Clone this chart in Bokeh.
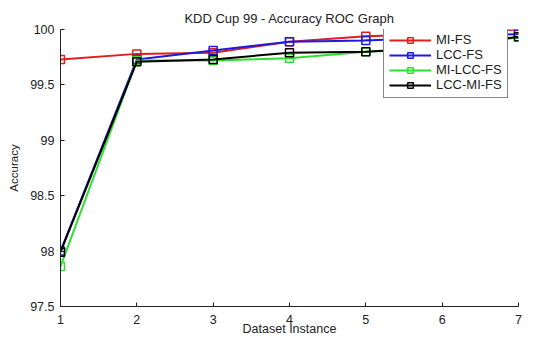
from bokeh.plotting import figure
from bokeh.models import FixedTicker, Legend
from bokeh.embed import file_html
from bokeh.resources import INLINE

instances = [1, 2, 3, 4, 5, 6, 7]
mi_fs = [99.73, 99.78, 99.79, 99.89, 99.94, 99.96, 100.0]
lcc_fs = [98.00, 99.73, 99.81, 99.89, 99.90, 99.93, 99.96]
mi_lcc_fs = [97.86, 99.72, 99.72, 99.74, 99.80, 99.83, 99.93]
lcc_mi_fs = [97.99, 99.71, 99.73, 99.79, 99.80, 99.84, 99.935]

series_names = ["MI-FS", "LCC-FS", "MI-LCC-FS", "LCC-MI-FS"]
series_values = [mi_fs, lcc_fs, mi_lcc_fs, lcc_mi_fs]
colors = ["#e31c1c", "#1c1ce0", "#2ee02e", "#000000"]

y_ticks = [97.5, 98, 98.5, 99, 99.5, 100]
y_tick_labels = ["97.5", "98", "98.5", "99", "99.5", "100"]

FONT = "Liberation Sans"
FS = "12.5px"

p = figure(width=544, height=338, output_backend="svg", toolbar_location=None,
           x_range=(1, 7), y_range=(97.5, 100),
           min_border_left=60, min_border_right=26, min_border_top=29, min_border_bottom=30,
           title="KDD Cup 99 - Accuracy ROC Graph")
p.title.align = "center"
p.title.text_font = FONT
p.title.text_font_size = "13px"
p.title.text_font_style = "normal"
p.title.text_color = "#222222"
p.title.standoff = 8
p.outline_line_color = None
p.xgrid.visible = False
p.ygrid.visible = False

p.xaxis.ticker = FixedTicker(ticks=instances)
p.yaxis.ticker = FixedTicker(ticks=y_ticks)
p.yaxis.major_label_overrides = {t: l for t, l in zip(y_ticks, y_tick_labels)}
for ax in (p.xaxis, p.yaxis):
    ax.major_tick_in = 4
    ax.major_tick_out = 0
    ax.minor_tick_in = 0
    ax.minor_tick_out = 0
    ax.axis_line_color = "#222222"
    ax.major_tick_line_color = "#222222"
    ax.major_label_text_font = FONT
    ax.major_label_text_font_size = FS
    ax.major_label_text_color = "#222222"
    ax.axis_label_text_font = FONT
    ax.axis_label_text_font_size = FS
    ax.axis_label_text_font_style = "normal"
    ax.axis_label_text_color = "#222222"
p.xaxis.axis_label = "Dataset Instance"
p.yaxis.axis_label = "Accuracy"
p.yaxis.axis_label_text_font_size = "11.5px"
p.xaxis.major_label_standoff = 8
p.xaxis.axis_label_standoff = -5
p.yaxis.major_label_standoff = 6
p.yaxis.axis_label_standoff = 7

items = []
for name, vals, c in zip(series_names, series_values, colors):
    l = p.line(instances, vals, line_color=c, line_width=2)
    s = p.scatter(instances, vals, marker="square", size=8, line_color=c,
                  fill_color=None, line_width=1.5)
    items.append((name, [l, s]))

legend = Legend(items=items, location=(323, 208))
legend.margin = 0
legend.padding = 5
legend.spacing = 0
legend.glyph_width = 42
legend.glyph_height = 14
legend.label_height = 14
legend.label_standoff = 5
legend.label_text_font = FONT
legend.label_text_font_size = "13px"
legend.label_text_color = "#222222"
legend.border_line_color = "#111111"
legend.border_line_width = 1
legend.background_fill_color = "white"
legend.background_fill_alpha = 1
p.add_layout(legend, "center")

open("out.html", "w").write(file_html(p, INLINE))
